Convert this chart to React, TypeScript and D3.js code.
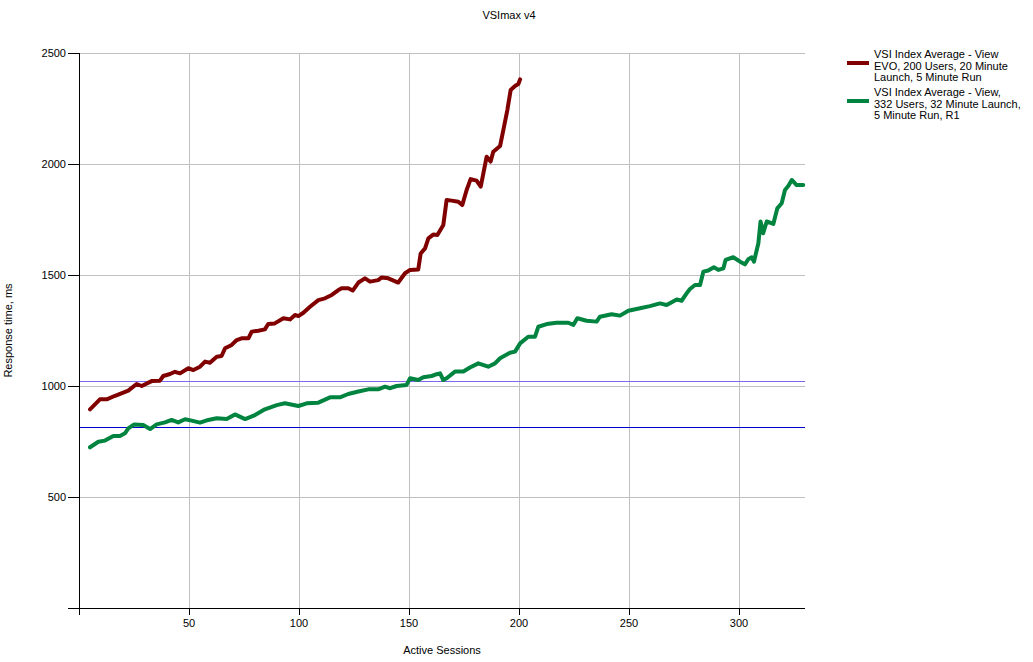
import React from "react";
import * as d3 from "d3";

const chartTitle = "VSImax v4";
const xAxisTitle = "Active Sessions";
const yAxisTitle = "Response time, ms";
const xTicks = [0, 50, 100, 150, 200, 250, 300];
const yTicks = [0, 500, 1000, 1500, 2000, 2500];

const seriesNames = [
  ["VSI Index Average - View", "EVO, 200 Users, 20 Minute", "Launch, 5 Minute Run"],
  ["VSI Index Average - View,", "332 Users, 32 Minute Launch,", "5 Minute Run, R1"],
];
const seriesColors = ["#800000", "#00843f"];

// [active sessions, response time ms]
const evoSeries: [number, number][] = [
  [5, 895], [9.5, 940], [12.6, 940], [16.4, 956], [22.4, 979], [26.2, 1009], [28.5, 1000],
  [33, 1022], [36.8, 1024], [38.3, 1045], [41.4, 1054], [43.6, 1064], [45.9, 1057],
  [49.7, 1080], [52, 1072], [55, 1087], [57.3, 1110], [59.5, 1105], [62.6, 1132],
  [64.8, 1135], [66.4, 1170], [69.4, 1185], [71.7, 1207], [73.9, 1215], [77, 1215],
  [78.5, 1245], [81.5, 1249], [84.5, 1255], [86, 1279], [89, 1282], [92.9, 1305],
  [95.9, 1300], [98.2, 1320], [99.7, 1315], [102, 1330], [105, 1357], [108.8, 1387],
  [111.8, 1395], [114.9, 1410], [117.9, 1432], [119.4, 1440], [122.4, 1440], [124.4, 1430],
  [127, 1466], [130, 1485], [132.3, 1470], [136, 1477], [137.6, 1489], [140.6, 1485],
  [145.1, 1466], [148.2, 1508], [150.5, 1523], [154.2, 1525], [155.3, 1597], [157.3, 1620],
  [158.8, 1665], [161, 1682], [162.9, 1680], [165.6, 1725], [167.1, 1838], [169.4, 1835],
  [172.4, 1830], [174.2, 1815], [176.2, 1883], [178, 1932], [180.7, 1925], [182.6, 1898],
  [183.8, 1958], [185.3, 2033], [187.1, 2011], [188.3, 2055], [191.4, 2081], [193.2, 2168],
  [194.7, 2243], [196.2, 2333], [198.2, 2351], [199.7, 2360], [200.5, 2381],
];

const r1Series: [number, number][] = [
  [5, 724], [8.8, 749], [11.8, 754], [15.6, 775], [18.6, 775], [20.9, 787], [22.4, 809],
  [25.1, 827], [29.2, 824], [32.3, 806], [35.3, 827], [39.1, 836], [42.1, 847], [45.1, 836],
  [48.2, 850], [51.2, 844], [55, 835], [58.8, 847], [62.6, 855], [67.1, 851], [70.9, 872],
  [75.5, 851], [80, 869], [84.5, 895], [89.9, 914], [93.6, 922], [99.7, 910], [103.5, 922],
  [108.8, 925], [114.1, 949], [118.6, 949], [122.4, 964], [127, 975], [131.5, 985],
  [136, 985], [139.1, 997], [141.4, 990], [144.4, 1000], [148.9, 1005], [150.5, 1035],
  [154.2, 1027], [156.5, 1039], [160.3, 1045], [162.6, 1053], [164.1, 1057], [165.6, 1027],
  [167.1, 1035], [170.9, 1065], [174.7, 1065], [177.7, 1083], [181.5, 1102], [186, 1087],
  [189.1, 1102], [191.4, 1125], [195.9, 1150], [198.2, 1155], [200.5, 1192], [204.2, 1222],
  [207.3, 1222], [208.8, 1267], [212.6, 1279], [217.1, 1285], [222.4, 1285], [224.7, 1275],
  [226.5, 1305], [230.7, 1294], [235.3, 1290], [236.8, 1312], [242.1, 1323], [245.9, 1317],
  [249.7, 1339], [255, 1350], [259.5, 1360], [264.1, 1372], [267.1, 1365], [271.7, 1390],
  [273.9, 1384], [276.2, 1417], [277.7, 1437], [280, 1455], [282.3, 1455], [283.8, 1515],
  [286, 1520], [288.6, 1535], [290.6, 1523], [292.9, 1530], [293.9, 1568], [297.4, 1580],
  [300.5, 1560], [302.7, 1548], [304.2, 1571], [305.8, 1580], [306.8, 1560], [308.8, 1643],
  [309.8, 1741], [311, 1688], [312.6, 1741], [315.6, 1730], [317.4, 1800], [319.4, 1823],
  [320.9, 1883], [322.4, 1901], [324, 1928], [326.2, 1905], [329.2, 1905],
];

const referenceLines = [
  { value: 1021, color: "#7b68ee" },
  { value: 814, color: "#0000cd" },
];

const W = 1033;
const H = 662;
const plot = { left: 79, right: 805, top: 53, bottom: 608 };
const font = "'Liberation Sans', Arial, sans-serif";

export default function App() {
  const x = d3.scaleLinear().domain([0, 330]).range([plot.left, plot.right]);
  const y = d3.scaleLinear().domain([0, 2500]).range([plot.bottom, plot.top]);
  const line = d3
    .line<[number, number]>()
    .x((d) => x(d[0]))
    .y((d) => y(d[1]));
  const series = [evoSeries, r1Series];

  return (
    <svg
      width={W}
      height={H}
      style={{ position: "absolute", left: 0, top: 0, display: "block", background: "#fff" }}
      fontFamily={font}
    >
      <rect x={0} y={0} width={W} height={H} fill="#fff" />
      {/* gridlines */}
      {xTicks.filter((t) => t > 0).map((t) => (
        <line key={"gx" + t} x1={Math.round(x(t)) + 0.5} x2={Math.round(x(t)) + 0.5} y1={plot.top} y2={plot.bottom} stroke="#c0c0c0" strokeWidth={1} />
      ))}
      {yTicks.filter((t) => t > 0).map((t) => (
        <line key={"gy" + t} x1={plot.left} x2={plot.right} y1={Math.round(y(t)) + 0.5} y2={Math.round(y(t)) + 0.5} stroke="#c0c0c0" strokeWidth={1} />
      ))}
      {/* reference lines */}
      {referenceLines.map((r, i) => (
        <line key={"ref" + i} x1={plot.left} x2={plot.right} y1={Math.round(y(r.value)) + 0.5} y2={Math.round(y(r.value)) + 0.5} stroke={r.color} strokeWidth={1} />
      ))}
      {/* series */}
      {series.map((s, i) => (
        <path key={"s" + i} d={line(s) || ""} fill="none" stroke={seriesColors[i]} strokeWidth={4} strokeLinejoin="round" strokeLinecap="round" />
      ))}
      {/* axes */}
      <line x1={plot.left + 0.5} x2={plot.left + 0.5} y1={plot.top} y2={plot.bottom} stroke="#000" />
      <line x1={plot.left - 11} x2={plot.right} y1={plot.bottom + 0.5} y2={plot.bottom + 0.5} stroke="#000" />
      {yTicks.map((t) => (
        <g key={"yt" + t}>
          <line x1={plot.left - 11} x2={plot.left} y1={Math.round(y(t)) + 0.5} y2={Math.round(y(t)) + 0.5} stroke="#000" />
          {t > 0 && (
            <text x={plot.left - 13} y={y(t)} dy="0.35em" textAnchor="end" fontSize={11} fill="#000">
              {t}
            </text>
          )}
        </g>
      ))}
      {xTicks.map((t) => (
        <g key={"xt" + t}>
          <line x1={Math.round(x(t)) + 0.5} x2={Math.round(x(t)) + 0.5} y1={plot.bottom} y2={plot.bottom + 7} stroke="#000" />
          {t > 0 && (
            <text x={x(t)} y={plot.bottom + 19} textAnchor="middle" fontSize={11} fill="#000">
              {t}
            </text>
          )}
        </g>
      ))}
      {/* titles */}
      <text x={509} y={19} textAnchor="middle" fontSize={11} fill="#000">{chartTitle}</text>
      <text x={(plot.left + plot.right) / 2} y={654} textAnchor="middle" fontSize={11} fill="#000">{xAxisTitle}</text>
      <text transform={`translate(12, ${(plot.top + plot.bottom) / 2}) rotate(-90)`} textAnchor="middle" fontSize={11} fill="#000">{yAxisTitle}</text>
      {/* legend */}
      {seriesNames.map((lines, i) => {
        const top = 58 + i * 38;
        return (
          <g key={"lg" + i}>
            <line x1={847} x2={869} y1={top + 5} y2={top + 5} stroke={seriesColors[i]} strokeWidth={4} />
            {lines.map((l, j) => (
              <text key={j} x={874} y={top + j * 11.5} fontSize={11} fill="#000">{l}</text>
            ))}
          </g>
        );
      })}
    </svg>
  );
}
